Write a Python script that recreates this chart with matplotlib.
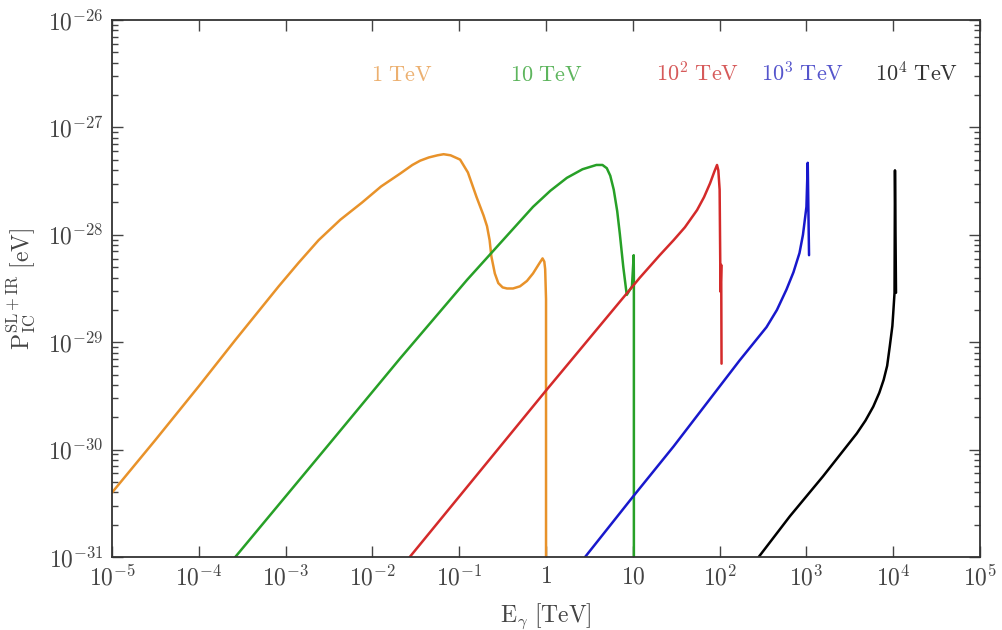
import numpy as np
import matplotlib
matplotlib.use("Agg")
import matplotlib.pyplot as plt
from matplotlib.ticker import FixedLocator, FixedFormatter, LogLocator, NullFormatter

plt.rcParams['mathtext.fontset'] = 'cm'
plt.rcParams['font.family'] = ['DejaVu Serif']

# ---- data (log10 E [TeV], log10 P [eV]) ----
orange_logE = [-5.0, -4.5, -4.0, -3.58, -3.08, -2.85, -2.62, -2.37, -2.12, -1.90, -1.68, -1.54, -1.45,
               -1.35, -1.25, -1.18, -1.10, -0.99, -0.90, -0.80, -0.72, -0.68, -0.65, -0.63, -0.59,
               -0.55, -0.50, -0.45, -0.38, -0.30, -0.22, -0.15, -0.08, -0.04, -0.02, -0.01, 0.0, 0.0]
orange_logP = [-30.40, -29.91, -29.41, -28.98, -28.48, -28.26, -28.05, -27.86, -27.70, -27.55, -27.43, -27.35, -27.31,
               -27.28, -27.26, -27.25, -27.26, -27.30, -27.42, -27.65, -27.82, -27.92, -28.05, -28.20, -28.36,
               -28.45, -28.49, -28.50, -28.50, -28.48, -28.43, -28.36, -28.27, -28.22, -28.25, -28.32, -28.6, -31.5]

green_logE = [-3.58, -2.5, -1.68, -1.30, -0.91, -0.53, -0.15, 0.05, 0.24, 0.42, 0.58, 0.65, 0.70, 0.74,
              0.78, 0.82, 0.85, 0.89, 0.93, 0.99, 1.01, 1.012, 1.012]
green_logP = [-31.0, -29.95, -29.15, -28.79, -28.42, -28.08, -27.74, -27.59, -27.47, -27.39, -27.35, -27.35, -27.38, -27.45,
              -27.58, -27.78, -27.99, -28.30, -28.56, -28.48, -28.19, -28.4, -31.5]

red_logE = [-1.57, 0.0, 1.08, 1.31, 1.47, 1.60, 1.74, 1.82, 1.89, 1.94, 1.97, 1.985, 2.0, 2.01, 2.018, 2.022]
red_logP = [-31.0, -29.45, -28.40, -28.19, -28.05, -27.93, -27.77, -27.65, -27.52, -27.41, -27.35, -27.40, -27.58,
            -28.53, -28.28, -29.20]

blue_logE = [0.45, 1.0, 1.47, 1.85, 2.23, 2.40, 2.54, 2.66, 2.77, 2.85, 2.92, 2.96, 3.0, 3.015, 3.03]
blue_logP = [-31.0, -30.44, -29.97, -29.57, -29.17, -29.00, -28.86, -28.70, -28.51, -28.35, -28.17, -28.0, -27.74,
             -27.33, -28.19]

black_logE = [2.45, 2.81, 3.19, 3.58, 3.68, 3.77, 3.84, 3.89, 3.93, 3.96, 3.99, 4.0, 4.015, 4.02, 4.032]
black_logP = [-31.0, -30.62, -30.25, -29.85, -29.73, -29.60, -29.47, -29.35, -29.22, -29.04, -28.85, -28.73, -28.54,
              -27.40, -28.54]

series_labels = [r'$\mathrm{1\ TeV}$', r'$\mathrm{10\ TeV}$', r'$\mathrm{10^{2}\ TeV}$',
                 r'$\mathrm{10^{3}\ TeV}$', r'$\mathrm{10^{4}\ TeV}$']
x_ticks = [1e-5, 1e-4, 1e-3, 1e-2, 1e-1, 1, 10, 1e2, 1e3, 1e4, 1e5]
x_ticklabels = [r'$10^{-5}$', r'$10^{-4}$', r'$10^{-3}$', r'$10^{-2}$', r'$10^{-1}$', r'$1$', r'$10$',
                r'$10^{2}$', r'$10^{3}$', r'$10^{4}$', r'$10^{5}$']
y_ticks = [1e-31, 1e-30, 1e-29, 1e-28, 1e-27, 1e-26]
y_ticklabels = [r'$10^{-31}$', r'$10^{-30}$', r'$10^{-29}$', r'$10^{-28}$', r'$10^{-27}$', r'$10^{-26}$']

# ---- styles / layout ----
line_colors = ['#E8922A', '#27A027', '#D42A2A', '#1818CC', '#000000']
text_colors = ['#ECB070', '#5DB55D', '#D65A5A', '#5555CC', '#333333']
label_pos_logE = [-1.66, 0.01, 1.75, 2.96, 4.27]
label_pos_logP = -26.51

fig = plt.figure(figsize=(10.03, 6.30), dpi=100)
ax = fig.add_axes([0.1117, 0.1159, 0.8654, 0.8524])

curves = [(orange_logE, orange_logP), (green_logE, green_logP), (red_logE, red_logP),
          (blue_logE, blue_logP), (black_logE, black_logP)]
for (le, lp), c in zip(curves, line_colors):
    ax.plot(10.0 ** np.array(le), 10.0 ** np.array(lp), color=c, lw=1.8,
            solid_joinstyle='round', solid_capstyle='round')

for lab, c, lx in zip(series_labels, text_colors, label_pos_logE):
    ax.text(10.0 ** lx, 10.0 ** label_pos_logP, lab, color=c, fontsize=16, ha='center', va='center')

ax.set_xscale('log')
ax.set_yscale('log')
ax.set_xlim(1e-5, 1e5)
ax.set_ylim(1e-31, 1e-26)

ax.xaxis.set_major_locator(FixedLocator(x_ticks))
ax.xaxis.set_major_formatter(FixedFormatter(x_ticklabels))
ax.xaxis.set_minor_locator(FixedLocator([]))
ax.yaxis.set_major_locator(FixedLocator(y_ticks))
ax.yaxis.set_major_formatter(FixedFormatter(y_ticklabels))
ax.yaxis.set_minor_locator(LogLocator(base=10, subs=np.arange(2, 10), numticks=20))
ax.yaxis.set_minor_formatter(NullFormatter())

ax.tick_params(which='both', direction='in', top=True, right=True, colors='#444444',
               labelcolor='#444444', labelsize=17, width=1.0)
ax.tick_params(which='major', length=8, pad=6)
ax.tick_params(which='minor', length=4)
for s in ax.spines.values():
    s.set_color('#333333')
    s.set_linewidth(1.3)

ax.set_xlabel(r'$\mathrm{E}_{\gamma}\ \mathrm{[TeV]}$', fontsize=17, color='#444444', labelpad=8)
ax.set_ylabel(r'$\mathrm{P}_{\mathrm{IC}}^{\mathrm{SL+IR}}\ \mathrm{[eV]}$', fontsize=17, color='#444444', labelpad=8)

fig.savefig('out.png', dpi=100)
